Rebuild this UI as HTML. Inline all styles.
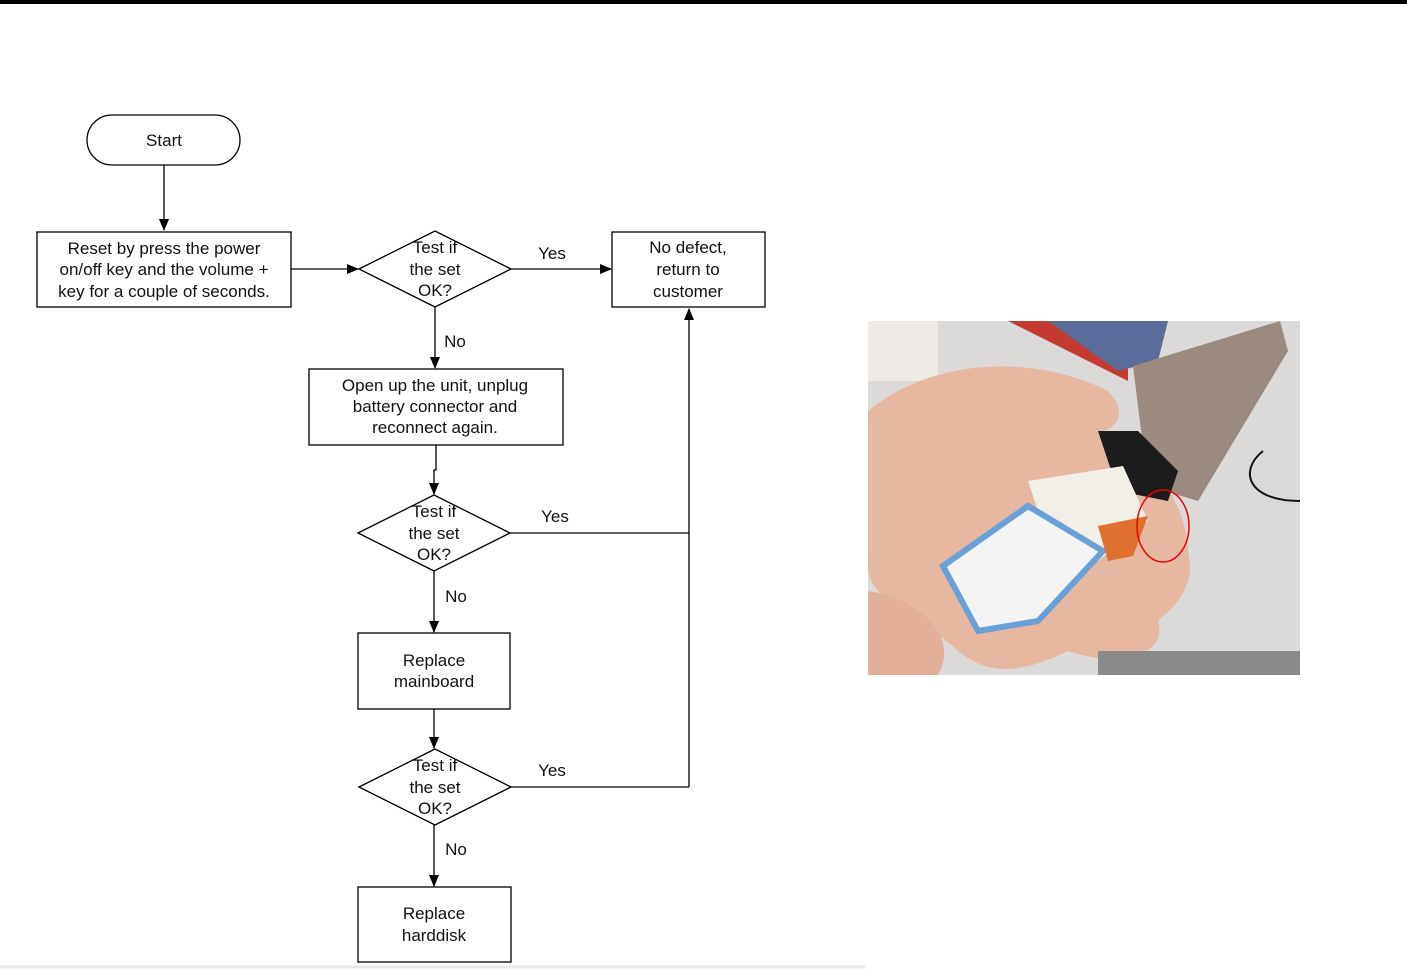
<!DOCTYPE html>
<html><head><style>
html,body{margin:0;padding:0;background:#fff;}
body{width:1407px;height:970px;position:relative;overflow:hidden;}
svg text{font-family:"Liberation Sans",sans-serif;font-size:17px;fill:#111;text-anchor:middle;}
</style></head><body>
<svg width="1407" height="970" style="position:absolute;left:0;top:0">
<defs><marker id="a" markerWidth="12" markerHeight="10" refX="11" refY="5" orient="auto" markerUnits="userSpaceOnUse"><path d="M0,0 L12,5 L0,10 Z" fill="#000"/></marker></defs>
<rect x="0" y="0" width="1407" height="4" fill="#000"/>
<g stroke="#000" stroke-width="1.3" fill="none">
<rect x="87" y="115" width="153" height="50" rx="25"/>
<rect x="37" y="232" width="254" height="75"/>
<rect x="612" y="232" width="153" height="75"/>
<rect x="309" y="369" width="254" height="76"/>
<rect x="358" y="633" width="152" height="76"/>
<rect x="358" y="887" width="153" height="75"/>
<polygon points="359,269 435,231 511,269 435,307"/>
<polygon points="358,533 434,495 510,533 434,571"/>
<polygon points="359,787 435,749 511,787 435,825"/>
<line x1="164" y1="165" x2="164" y2="230" marker-end="url(#a)"/>
<line x1="291" y1="269" x2="358" y2="269" marker-end="url(#a)"/>
<line x1="511" y1="269" x2="611" y2="269" marker-end="url(#a)"/>
<line x1="435" y1="307" x2="435" y2="368" marker-end="url(#a)"/>
<polyline points="436,445 436,470 434,470 434,494" marker-end="url(#a)"/>
<line x1="434" y1="571" x2="434" y2="632" marker-end="url(#a)"/>
<line x1="434" y1="709" x2="434" y2="748" marker-end="url(#a)"/>
<line x1="434" y1="825" x2="434" y2="886" marker-end="url(#a)"/>
<line x1="510" y1="533" x2="689" y2="533"/>
<line x1="511" y1="787" x2="689" y2="787"/>
<line x1="689" y1="787" x2="689" y2="309" marker-end="url(#a)"/>
</g>
<line x1="0" y1="967" x2="865" y2="967" stroke="#e8e8e0" stroke-width="3"/>
<text x="164" y="146">Start</text>
<text x="164" y="254">Reset by press the power</text>
<text x="164" y="275">on/off key and the volume +</text>
<text x="164" y="297">key for a couple of seconds.</text>
<text x="435" y="253">Test if</text>
<text x="435" y="275">the set</text>
<text x="435" y="296">OK?</text>
<text x="434" y="517">Test if</text>
<text x="434" y="539">the set</text>
<text x="434" y="560">OK?</text>
<text x="435" y="771">Test if</text>
<text x="435" y="793">the set</text>
<text x="435" y="814">OK?</text>
<text x="552" y="259">Yes</text>
<text x="555" y="522">Yes</text>
<text x="552" y="776">Yes</text>
<text x="455" y="347">No</text>
<text x="456" y="602">No</text>
<text x="456" y="855">No</text>
<text x="688" y="253">No defect,</text>
<text x="688" y="275">return to</text>
<text x="688" y="297">customer</text>
<text x="435" y="391">Open up the unit, unplug</text>
<text x="435" y="412">battery connector and</text>
<text x="435" y="433">reconnect again.</text>
<text x="434" y="666">Replace</text>
<text x="434" y="687">mainboard</text>
<text x="434" y="919">Replace</text>
<text x="434" y="941">harddisk</text>
<g transform="translate(868,321)">
<rect width="432" height="354" fill="#dcdad8"/>
<rect x="0" y="0" width="70" height="60" fill="#eeebe6"/>
<polygon points="140,0 260,0 260,60" fill="#c23a30"/>
<polygon points="180,0 300,0 290,40 250,50" fill="#5a6c9a"/>
<polygon points="265,45 412,0 420,30 330,180 280,165" fill="#9a8a80"/>
<path d="M0,90 C60,40 160,30 240,70 C260,90 250,110 230,110 C300,140 320,200 320,230 C330,270 300,290 290,300 C300,330 260,350 200,330 C150,354 120,354 90,330 C60,300 10,290 0,250 Z" fill="#e6b8a2"/>
<path d="M0,270 C60,280 90,320 70,354 L0,354 Z" fill="#e2b09a"/>
<polygon points="230,110 270,110 310,150 300,180 250,170" fill="#1c1c1c"/>
<polygon points="160,160 255,145 280,200 230,240 180,220" fill="#f2efe8"/>
<polygon points="75,245 160,185 235,230 170,300 110,310" fill="#f4f4f4" stroke="#6aa0d8" stroke-width="6"/>
<polygon points="230,205 280,195 265,235 240,240" fill="#e07030"/>
<path d="M395,130 C370,150 380,180 432,180" stroke="#111" stroke-width="2" fill="none"/>
<rect x="230" y="330" width="202" height="24" fill="#8a8a8a"/>
<ellipse cx="295" cy="205" rx="26" ry="36" fill="none" stroke="#e00" stroke-width="1.5"/>
</g>
</svg>
</body></html>
